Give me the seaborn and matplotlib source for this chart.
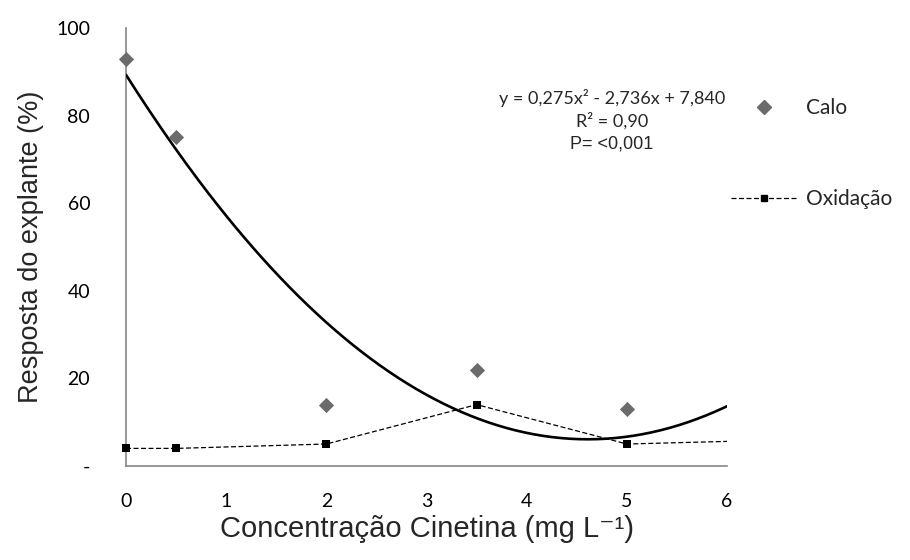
import numpy as np
import pandas as pd
import matplotlib
matplotlib.use("Agg")
import matplotlib.pyplot as plt
import seaborn as sns
from matplotlib.lines import Line2D

# Data
conc = [0, 0.5, 2, 3.5, 5]
calo = [93, 75, 14, 22, 13]
oxid_x = [0, 0.5, 2, 3.5, 5, 6]
oxid = [4, 4, 5, 14, 5, 5.6]
# quadratic trendline of Calo as drawn in the chart
trend_a = 89.3
trend_b = -36.1
trend_c = 3.915
trend_range = [0, 6]
x_ticks = [0, 1, 2, 3, 4, 5, 6]
y_ticks = [0, 20, 40, 60, 80, 100]
y_ticklabels = ["-", "20", "40", "60", "80", "100"]

sns.set_style("white")
plt.rcParams['font.family'] = ['Lato', 'DejaVu Sans']

fig = plt.figure(figsize=(9.1, 5.6), dpi=100)
ax = fig.add_axes([0.1385, 0.168, 0.6605, 0.782])
ax.set_xlim(0, 6)
ax.set_ylim(0, 100)

df_calo = pd.DataFrame({"x": conc, "y": calo})
df_ox = pd.DataFrame({"x": oxid_x, "y": oxid})
tx = np.linspace(trend_range[0], trend_range[1], 200)
df_trend = pd.DataFrame({"x": tx, "y": trend_a + trend_b * tx + trend_c * tx ** 2})

# trend curve
sns.lineplot(data=df_trend, x="x", y="y", ax=ax, color="black", lw=1.9, zorder=3)

# Oxidação dashed line
sns.lineplot(data=df_ox, x="x", y="y", ax=ax, color="black", lw=0.9,
             linestyle=(0, (4, 2)), zorder=4)
sns.scatterplot(data=df_ox.iloc[:5], x="x", y="y", ax=ax, marker="s", s=28,
                color="black", edgecolor="black", linewidth=0, zorder=5, clip_on=False)

# Calo points
sns.scatterplot(data=df_calo, x="x", y="y", ax=ax, marker="D", s=60,
                color="#6b6b6b", edgecolor="#6b6b6b", linewidth=0, zorder=6, clip_on=False)

ax.set_xticks(x_ticks)
ax.set_yticks(y_ticks)
ax.set_yticklabels(y_ticklabels)
ax.tick_params(axis="both", labelsize=14, length=5.8, width=1.2, color="#868686",
               direction="out", labelcolor="black")
ax.tick_params(axis="y", pad=20)
ax.tick_params(axis="x", pad=14)
for s in ["top", "right"]:
    ax.spines[s].set_visible(False)
for s in ["left", "bottom"]:
    ax.spines[s].set_color("#868686")
    ax.spines[s].set_linewidth(1.2)

ax.set_xlabel("Concentração Cinetina (mg L⁻¹)", fontsize=21,
              family=["Liberation Sans", "DejaVu Sans"], labelpad=3)
ax.set_ylabel("Resposta do explante (%)", fontsize=19.5, family="Liberation Sans", labelpad=9)

# equation text
ax.text(4.85, 84.0, "y = 0,275x² - 2,736x + 7,840", ha="center", va="center", fontsize=13)
ax.text(4.85, 78.7, "R² = 0,90", ha="center", va="center", fontsize=13)
ax.text(4.85, 73.4, "P= <0,001", ha="center", va="center", fontsize=13, family="Liberation Sans")

handles = [
    Line2D([], [], marker="D", linestyle="none", color="#6b6b6b", markersize=7.5),
    Line2D([], [], marker="s", color="black", lw=0.9, linestyle=(0, (4, 2)),
           markersize=5),
]
fig.legend(handles, ["Calo", "Oxidação"], loc="upper left",
           bbox_to_anchor=(731 / 910, 1 - 98 / 560), borderpad=0, borderaxespad=0,
           frameon=False, fontsize=15, handlelength=3.2, labelspacing=3.42,
           handletextpad=0.4)

fig.savefig("out.png", dpi=100)
